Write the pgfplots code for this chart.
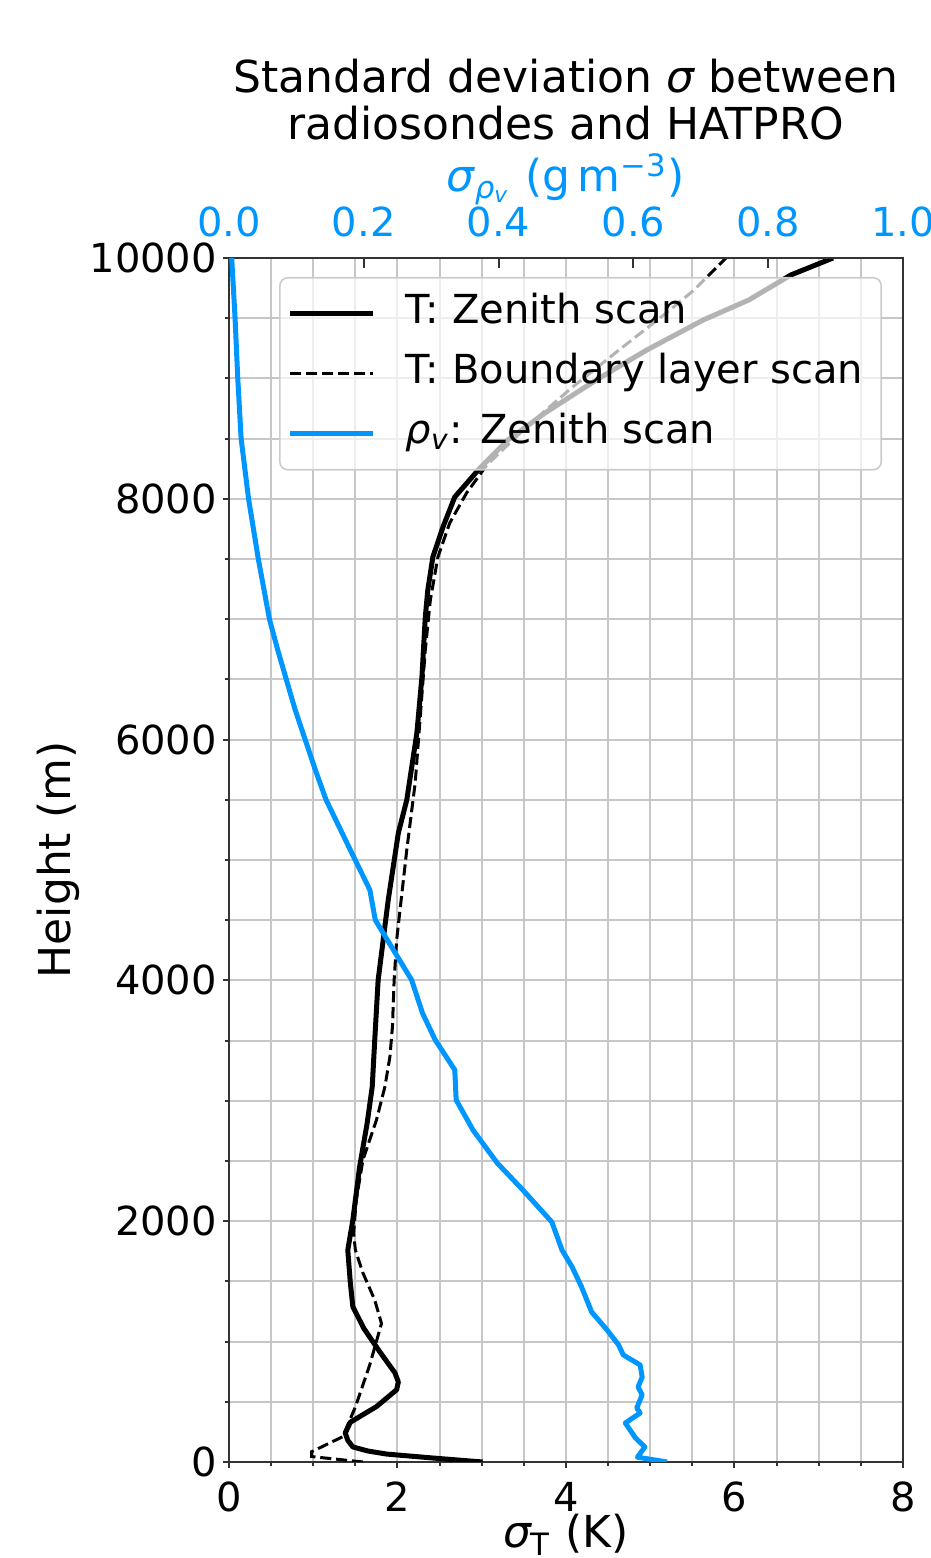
\documentclass[border=0pt]{standalone}
\usepackage{fontspec}
\setmainfont{DejaVu Sans}
\usepackage{pgfplots}
\pgfplotsset{compat=1.18}
\definecolor{skyb}{RGB}{0,150,255}

\pgfplotstableread{
s h
3.01 0
2.42 33
1.87 66
1.65 91
1.47 125
1.41 180
1.38 240
1.44 330
1.75 460
1.99 600
2.01 665
1.97 740
1.79 915
1.60 1110
1.47 1290
1.44 1490
1.41 1760
1.47 2010
1.55 2450
1.64 2815
1.70 3115
1.73 3505
1.77 4000
1.83 4335
1.89 4668
2.01 5224
2.11 5498
2.23 6055
2.29 6520
2.33 7018
2.36 7243
2.42 7517
2.54 7766
2.68 8015
2.98 8256
3.31 8488
3.75 8712
4.36 8987
4.96 9236
5.63 9485
6.17 9651
6.67 9859
7.17 10000
}\zenith

\pgfplotstableread{
s h
1.59 0
0.98 45
0.98 85
1.35 210
1.50 457
1.67 805
1.81 1150
1.73 1345
1.59 1570
1.50 1760
1.48 1900
1.51 2175
1.59 2510
1.75 2840
1.85 3115
1.91 3365
1.94 3615
1.96 4000
1.99 4335
2.03 4585
2.11 5083
2.21 5640
2.27 6188
2.33 6744
2.39 7160
2.48 7517
2.62 7799
2.82 8048
3.06 8280
3.53 8596
4.08 8929
4.63 9236
5.19 9543
5.52 9734
5.90 10000
}\boundary

\pgfplotstableread{
r h
0.650 0
0.606 40
0.617 125
0.603 200
0.588 324
0.610 407
0.605 449
0.613 557
0.607 623
0.613 706
0.610 806
0.585 889
0.578 972
0.561 1096
0.538 1246
0.523 1455
0.509 1620
0.494 1761
0.479 1993
0.436 2259
0.398 2483
0.362 2757
0.337 3007
0.335 3256
0.306 3505
0.287 3729
0.271 4003
0.244 4252
0.217 4502
0.209 4751
0.180 5083
0.144 5500
0.128 5750
0.113 6000
0.098 6250
0.085 6500
0.072 6750
0.060 7000
0.0435 7500
0.029 8000
0.018 8500
0.013 9000
0.009 9500
0.004 10000
}\rhov

\begin{document}
\begin{tikzpicture}
\begin{axis}[
  scale only axis, width=168.5pt, height=301pt,
  xmin=0, xmax=8, ymin=0, ymax=10000,
  xtick={0,2,4,6,8}, ytick={0,2000,4000,6000,8000,10000},
  minor x tick num=3, minor y tick num=3,
  grid=both,
  major grid style={black!22, line width=0.5pt},
  minor grid style={black!22, line width=0.5pt},
  axis line style={black!80, line width=0.6pt},
  tick pos=left, tick align=outside,
  major tick length=1.5pt, minor tick length=1pt,
  tick style={black!80, line width=0.5pt},
  tick label style={font=\fontsize{10}{12}\selectfont},
  y tick label style={xshift=2pt},
  /pgf/number format/assume math mode=true,
  /pgf/number format/1000 sep={},
  scaled y ticks=false, scaled x ticks=false,
  label style={font=\fontsize{11}{13}\selectfont},
  xlabel={{\itshape σ}\textsubscript{T} (K)},
  ylabel={Height (m)},
  xlabel style={at={(axis description cs:0.5,-0.0714)}, anchor=base},
  ylabel style={at={(axis description cs:-0.2537,0.5)}, anchor=center},
]
\addplot[black, line width=1.25pt, line join=round] table[x=s,y=h] {\zenith};
\addplot[black, line width=0.75pt, dash pattern=on 2.78pt off 1.2pt] table[x=s,y=h] {\boundary};
\end{axis}
\begin{axis}[
  scale only axis, width=168.5pt, height=301pt,
  xmin=0, xmax=1, ymin=0, ymax=10000,
  axis x line*=top, axis y line=none,
  xtick={0,0.2,0.4,0.6,0.8,1},
  tick align=inside, major tick length=2.5pt,
  tick style={black!80, line width=0.5pt},
  axis line style={black!80, line width=0.6pt},
  x tick label style={font=\fontsize{10}{12}\selectfont, text=skyb, yshift=1.7pt,
    /pgf/number format/.cd, fixed, fixed zerofill, precision=1},
  /pgf/number format/assume math mode=true,
  xlabel={{\itshape σ}\textsubscript{{\itshape ρ}\textsubscript{\itshape v}} (g\,m\textsuperscript{−3})},
  xlabel style={font=\fontsize{11}{13}\selectfont, text=skyb, at={(axis description cs:0.5,1.0548)}, anchor=base},
  legend style={
    at={(1,1)}, anchor=north east, xshift=-5.25pt, yshift=-4.75pt,
    fill=white, fill opacity=0.7, text opacity=1, draw=black!20,
    rounded corners=2pt, inner xsep=2pt, inner ysep=1.5pt,
    font=\fontsize{10}{12}\selectfont,
    nodes={inner sep=2.5pt, text height=7.5pt, text depth=2.5pt},
    /tikz/every odd column/.append style={column sep=5pt},
  },
  legend cell align=left,
  legend image code/.code={\draw[#1] (0pt,0pt) -- (20.75pt,0pt);},
]
\addlegendimage{black, line width=1.25pt}
\addlegendentry{T: Zenith scan}
\addlegendimage{black, line width=0.75pt, dash pattern=on 2.78pt off 1.2pt}
\addlegendentry{T: Boundary layer scan}
\addplot[skyb, line width=1.25pt, line join=round] table[x=r,y=h] {\rhov};
\addlegendentry{{\itshape ρ}\textsubscript{\itshape v}: Zenith scan}
\end{axis}
\node[anchor=base, font=\fontsize{11}{13}\selectfont] at (84.25pt,342.4pt) {Standard deviation {\itshape σ} between};
\node[anchor=base, font=\fontsize{11}{13}\selectfont] at (84.25pt,330.5pt) {radiosondes and HATPRO};
\pgfresetboundingbox
\useasboundingbox (-57.25pt,-24pt) rectangle (175.25pt,365.5pt);
\end{tikzpicture}
\end{document}
